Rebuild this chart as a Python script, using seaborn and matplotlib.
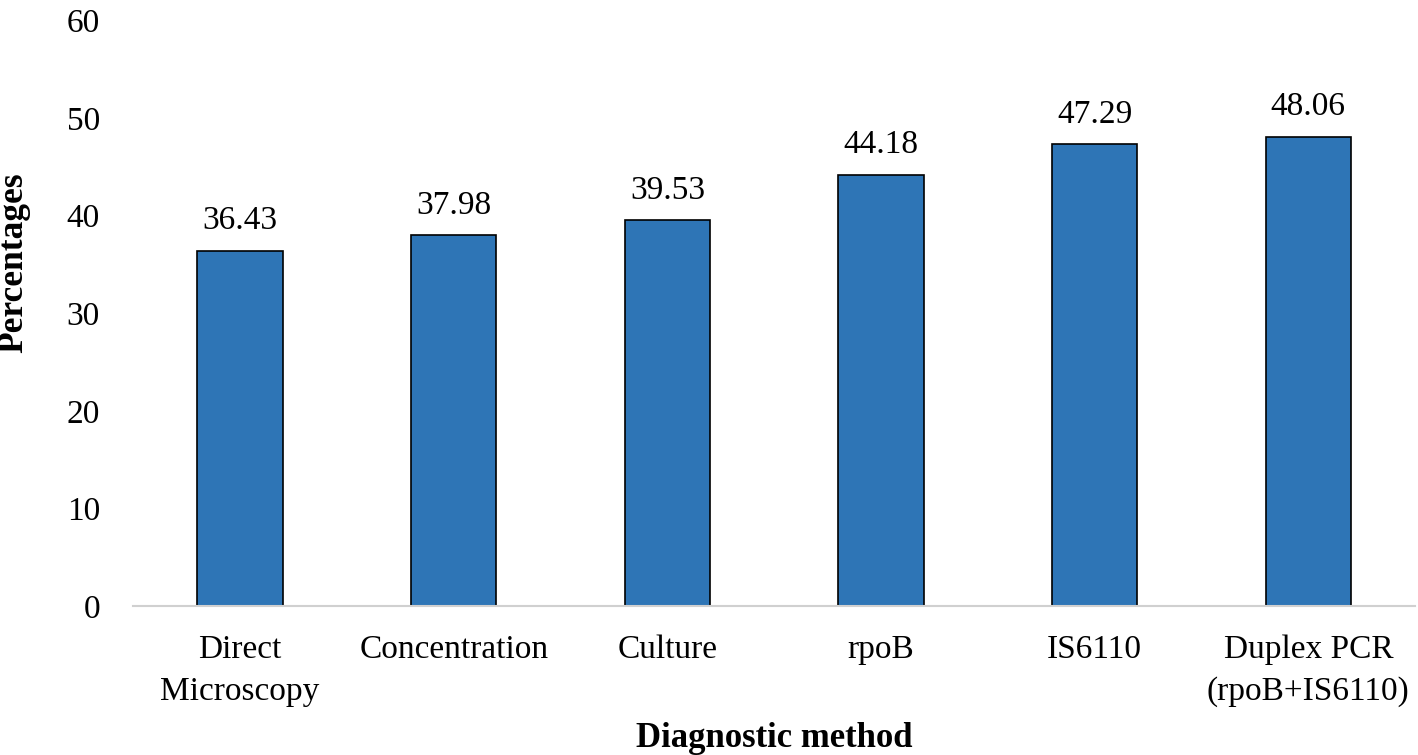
import matplotlib.pyplot as plt
import seaborn as sns
import pandas as pd

methods = ["Direct\nMicroscopy", "Concentration", "Culture", "rpoB", "IS6110",
           "Duplex PCR\n(rpoB+IS6110)"]
percentages = [36.43, 37.98, 39.53, 44.18, 47.29, 48.06]

df = pd.DataFrame({"method": methods, "pct": percentages})

sns.set_style("white")
plt.rcParams["font.family"] = ["Liberation Serif", "DejaVu Serif"]
plt.rcParams["text.color"] = "black"
plt.rcParams["xtick.color"] = "black"
plt.rcParams["ytick.color"] = "black"
plt.rcParams["axes.labelcolor"] = "black"

fig = plt.figure(figsize=(14.18, 7.55), dpi=100)
ax = fig.add_axes([0.094, 0.197, 0.904, 0.776])

sns.barplot(data=df, x="method", y="pct", color="#2E75B6", saturation=1,
            width=0.4, edgecolor="black", linewidth=1.2, ax=ax)

for i, v in enumerate(percentages):
    ax.text(i, v + 1.5, f"{v:.2f}", ha="center", va="bottom", fontsize=24)

ax.set_ylim(0, 60)
ax.set_yticks(range(0, 61, 10))
ax.tick_params(axis="both", length=0, labelsize=24)
ax.tick_params(axis="x", pad=20)
ax.tick_params(axis="y", pad=24)
for lbl in ax.get_xticklabels():
    lbl.set_linespacing(1.5)
ax.set_xlabel("Diagnostic method", fontsize=25, fontweight="bold")
ax.set_ylabel("Percentages", fontsize=25.5, fontweight="bold")
ax.xaxis.set_label_coords(0.5, -0.198)
ax.yaxis.set_label_coords(-0.08, 0.587)

for side in ["top", "right", "left"]:
    ax.spines[side].set_visible(False)
ax.spines["bottom"].set_color("#d0d0d0")
ax.spines["bottom"].set_linewidth(1.5)

fig.savefig("out.png", dpi=100)
